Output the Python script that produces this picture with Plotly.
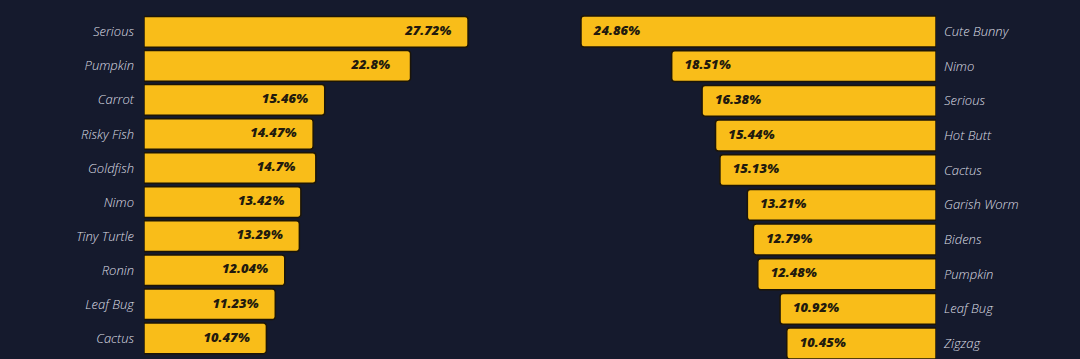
import plotly.graph_objects as go

left_names = ["Serious", "Pumpkin", "Carrot", "Risky Fish", "Goldfish",
              "Nimo", "Tiny Turtle", "Ronin", "Leaf Bug", "Cactus"]
left_values = [27.72, 22.8, 15.46, 14.47, 14.7, 13.42, 13.29, 12.04, 11.23, 10.47]

right_names = ["Cute Bunny", "Nimo", "Serious", "Hot Butt", "Cactus",
               "Garish Worm", "Bidens", "Pumpkin", "Leaf Bug", "Zigzag"]
right_values = [24.86, 18.51, 16.38, 15.44, 15.13, 13.21, 12.79, 12.48, 10.92, 10.45]

BG = "#151a2d"
BAR = "#f9bd19"
EDGE = "#1c1507"
LBL = "#dcdde3"
VAL = "#221a0e"

def fmt(v):
    s = ("%.2f" % v).rstrip("0").rstrip(".")
    return s + "%"

fig = go.Figure()

fig.add_trace(go.Bar(
    x=left_values, y=left_names, orientation="h", width=0.9,
    marker=dict(color=BAR, line=dict(color=EDGE, width=1.5), cornerradius=3),
    xaxis="x", yaxis="y", hoverinfo="skip", showlegend=False))
fig.add_trace(go.Scatter(
    x=[v - 3.4 for v in left_values], y=left_names, mode="text",
    text=[fmt(v) for v in left_values], textposition="middle center",
    textfont=dict(family="Open Sans", size=13, color=VAL, weight=800, style="italic"),
    xaxis="x", yaxis="y", hoverinfo="skip", showlegend=False))

fig.add_trace(go.Bar(
    x=right_values, y=right_names, orientation="h", width=0.89,
    marker=dict(color=BAR, line=dict(color=EDGE, width=1.5), cornerradius=3),
    xaxis="x2", yaxis="y2", hoverinfo="skip", showlegend=False))
fig.add_trace(go.Scatter(
    x=[v - 2.52 for v in right_values], y=right_names, mode="text",
    text=[fmt(v) for v in right_values], textposition="middle center",
    textfont=dict(family="Open Sans", size=13, color=VAL, weight=800, style="italic"),
    xaxis="x2", yaxis="y2", hoverinfo="skip", showlegend=False))

tickfont = dict(family="Open Sans", size=13, color=LBL, weight=300, style="italic")

fig.update_layout(
    width=1080, height=359,
    margin=dict(l=0, r=0, t=0, b=0),
    paper_bgcolor=BG, plot_bgcolor="rgba(0,0,0,0)",
    xaxis=dict(domain=[144/1080, 0.45], range=[0, (0.45*1080 - 144)/11.69],
               visible=False, fixedrange=True),
    yaxis=dict(domain=[0, 1], anchor="x", range=[9.607, -0.934],
               showgrid=False, zeroline=False, showline=False, ticks="",
               tickfont=tickfont, ticklabelstandoff=9, fixedrange=True),
    xaxis2=dict(domain=[0.52, 936/1080], range=[(936 - 0.52*1080)/14.28, 0],
                visible=False, fixedrange=True),
    yaxis2=dict(domain=[0, 1], anchor="x2", side="right", range=[9.446, -0.909],
                showgrid=False, zeroline=False, showline=False, ticks="",
                tickfont=tickfont, ticklabelstandoff=7, fixedrange=True),
)

fig.write_html("out.html")
